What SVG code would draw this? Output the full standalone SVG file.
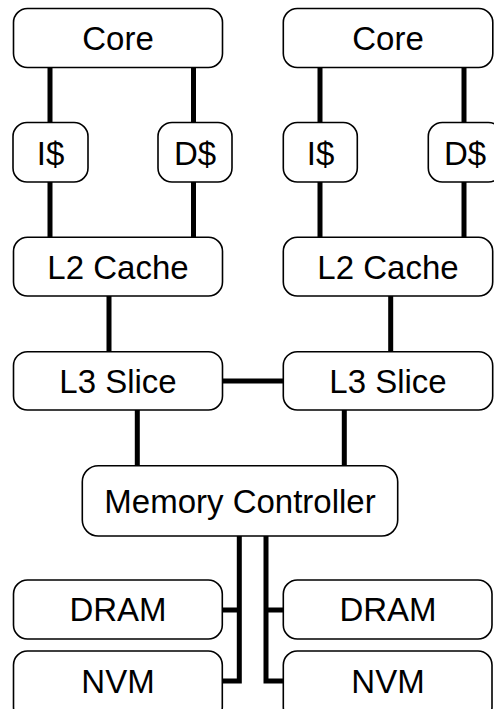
<svg xmlns="http://www.w3.org/2000/svg" width="494" height="709" viewBox="0 0 494 709">
<style>
.box{fill:#fff;stroke:#000;stroke-width:1.6}
.lbl{font-family:"Liberation Sans",Arial,Helvetica,sans-serif;font-size:33px;fill:#000;text-anchor:middle}
.wire{fill:none;stroke:#000;stroke-width:5;stroke-linecap:round;stroke-linejoin:miter}
</style>
<rect width="494" height="709" fill="#fff"/>
<g id="connectors">
<path class="wire" d="M50,67.5V122.5M193.5,67.5V122.5M50,182V237.3M193.5,182V237.3"/>
<path class="wire" d="M320,67.5V122.5M464,67.5V122.5M320,182V237.3M464,182V237.3"/>
<path class="wire" d="M109,296V351.7M390.7,296V351.7M222.5,381H283.3"/>
<path class="wire" d="M137.3,410V465.7M344.3,410V465.7"/>
<path class="wire" d="M239.3,536V681H222.5M222.5,610H239.3"/>
<path class="wire" d="M266,536V681H283.3M266,610H283.3"/>
</g>
<g id="core0"><rect class="box" x="13.5" y="8.5" width="209" height="59" rx="14"/><text class="lbl" x="118" y="50">Core</text></g>
<g id="core1"><rect class="box" x="283.3" y="8.5" width="209.5" height="59" rx="14"/><text class="lbl" x="388" y="50">Core</text></g>
<g id="icache0"><rect class="box" x="13" y="122.5" width="75" height="59.5" rx="14"/><text class="lbl" x="50.5" y="165">I$</text></g>
<g id="dcache0"><rect class="box" x="158" y="122.5" width="74" height="59.5" rx="14"/><text class="lbl" x="195" y="165">D$</text></g>
<g id="icache1"><rect class="box" x="283.3" y="122.5" width="74" height="59.5" rx="14"/><text class="lbl" x="320.5" y="165">I$</text></g>
<g id="dcache1"><rect class="box" x="428.3" y="122.5" width="74" height="59.5" rx="14"/><text class="lbl" x="465" y="165">D$</text></g>
<g id="l2_0"><rect class="box" x="13.5" y="237.3" width="209" height="58.7" rx="14"/><text class="lbl" x="118" y="278.7">L2 Cache</text></g>
<g id="l2_1"><rect class="box" x="283.3" y="237.3" width="209.4" height="58.7" rx="14"/><text class="lbl" x="388" y="278.7">L2 Cache</text></g>
<g id="l3_0"><rect class="box" x="13.5" y="351.7" width="209" height="58.3" rx="14"/><text class="lbl" x="118" y="393">L3 Slice</text></g>
<g id="l3_1"><rect class="box" x="283.3" y="351.7" width="209.4" height="58.3" rx="14"/><text class="lbl" x="388" y="393">L3 Slice</text></g>
<g id="memctrl"><rect class="box" x="82.3" y="465.7" width="315.4" height="70.3" rx="16"/><text class="lbl" x="240" y="512.7">Memory Controller</text></g>
<g id="dram0"><rect class="box" x="13.5" y="580" width="208.8" height="59" rx="14"/><text class="lbl" x="118" y="620.7">DRAM</text></g>
<g id="nvm0"><rect class="box" x="13.5" y="651" width="208.8" height="70" rx="14"/><text class="lbl" x="118" y="692.7">NVM</text></g>
<g id="dram1"><rect class="box" x="283.3" y="580" width="208.7" height="59" rx="14"/><text class="lbl" x="388" y="620.7">DRAM</text></g>
<g id="nvm1"><rect class="box" x="283.3" y="651" width="208.7" height="70" rx="14"/><text class="lbl" x="388" y="692.7">NVM</text></g>
</svg>
